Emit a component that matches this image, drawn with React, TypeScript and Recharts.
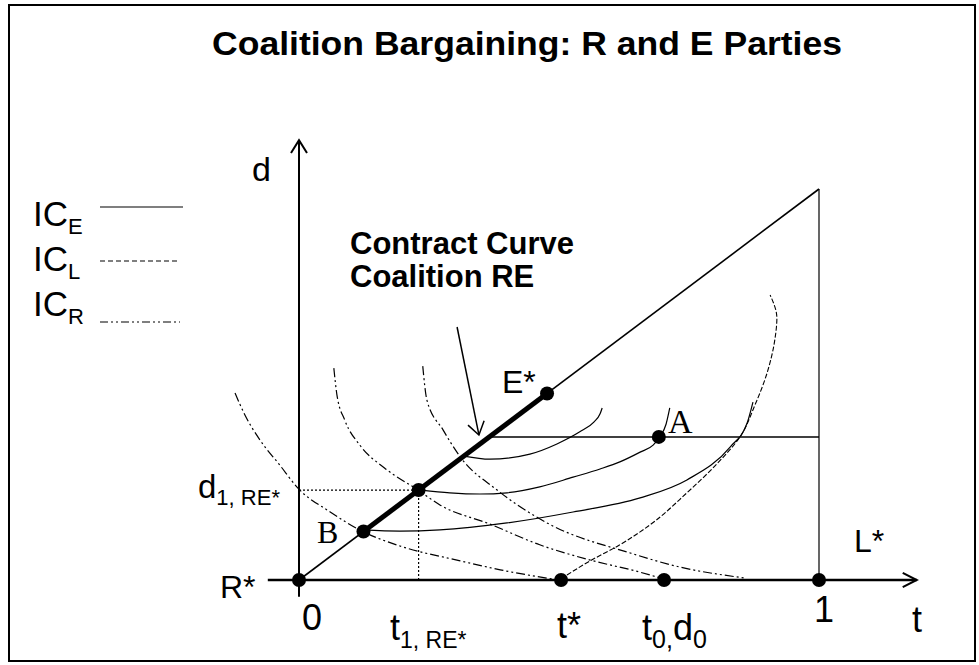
import React from 'react';
import {
  ComposedChart,
  XAxis,
  YAxis,
  Line,
  Scatter,
  ReferenceLine,
  ReferenceArea,
} from 'recharts';

const W = 979;
const H = 665;

// ---------- chart values (t = tax rate, d = second policy dimension) ----------
const budgetLine: [number, number][] = [[0, 0], [1, 1]];
const contractCurve: [number, number][] = [[0.124, 0.124], [0.477, 0.477]];
const aLevelLine: [number, number][] = [[0.366, 0.366], [1, 0.366]];
const tOneLine: [number, number][] = [[1, 0], [1, 1]];
const d1Guide: [number, number][] = [[0, 0.23], [0.23, 0.23]];
const t1Guide: [number, number][] = [[0.23, 0.23], [0.23, 0]];

// indifference curves of party E (solid)
const icE1: [number, number][] = [
  [0.317, 0.317], [0.367, 0.309], [0.444, 0.322], [0.496, 0.348],
  [0.54, 0.379], [0.567, 0.404], [0.579, 0.425], [0.583, 0.44],
];
const icE2: [number, number][] = [
  [0.235, 0.23], [0.29, 0.223], [0.348, 0.22], [0.4, 0.223], [0.463, 0.238],
  [0.527, 0.263], [0.579, 0.284], [0.617, 0.302], [0.656, 0.327],
  [0.681, 0.345], [0.694, 0.366], [0.706, 0.399], [0.713, 0.44],
];
const icE3: [number, number][] = [
  [0.123, 0.128], [0.194, 0.125], [0.271, 0.128], [0.4, 0.146], [0.527, 0.174],
  [0.656, 0.21], [0.746, 0.256], [0.829, 0.34], [0.862, 0.402], [0.873, 0.455],
];
// indifference curves of party R (dash-dot-dot)
const icR1: [number, number][] = [
  [-0.123, 0.478], [-0.104, 0.422], [-0.075, 0.358], [-0.037, 0.294],
  [-0.002, 0.235], [0.06, 0.174], [0.121, 0.125], [0.194, 0.087],
  [0.31, 0.049], [0.387, 0.026], [0.5, 0.0],
];
const icR2: [number, number][] = [
  [0.067, 0.542], [0.073, 0.473], [0.088, 0.409], [0.117, 0.345], [0.165, 0.286],
  [0.229, 0.23], [0.271, 0.192], [0.367, 0.143], [0.463, 0.09], [0.56, 0.051],
  [0.656, 0.02], [0.7, 0.003],
];
const icR3: [number, number][] = [
  [0.238, 0.547], [0.246, 0.46], [0.277, 0.384], [0.31, 0.315], [0.381, 0.23],
  [0.477, 0.146], [0.637, 0.069], [0.733, 0.033], [0.858, 0.005],
];
// indifference curve of party L (dashed)
const icL1: [number, number][] = [
  [0.504, 0.003], [0.56, 0.049], [0.617, 0.09], [0.675, 0.141], [0.746, 0.223],
  [0.8, 0.292], [0.848, 0.366], [0.877, 0.448], [0.9, 0.529], [0.915, 0.614],
  [0.919, 0.67], [0.906, 0.729],
];

// marked points
const markedT = [0, 0.124, 0.23, 0.477, 0.692, 0.504, 0.702, 1];
const markedD = [0, 0.124, 0.23, 0.477, 0.366, 0, 0, 0];

// axis extents
const tAxisRange: [number, number] = [-0.06, 1.188];
const dAxisRange: [number, number] = [-0.043, 1.125];

// contract-curve pointer
const pointer: [number, number][] = [[0.304, 0.647], [0.346, 0.371]];

// ---------- helpers ----------
const pts = (a: [number, number][]) => a.map(([t, d]) => ({ t, d }));
const points = markedT.map((t, i) => ({ t, d: markedD[i] }));

const xArrow = pts([
  [tAxisRange[1] - 0.027, 0.018],
  [tAxisRange[1], 0],
  [tAxisRange[1] - 0.027, -0.018],
]);
const yArrow = pts([
  [-0.0154, dAxisRange[1] - 0.033],
  [0, dAxisRange[1]],
  [0.0154, dAxisRange[1] - 0.033],
]);
const pointerHead = pts([
  [pointer[1][0] - 0.021, pointer[1][1] + 0.025],
  [pointer[1][0], pointer[1][1]],
  [pointer[1][0] + 0.01, pointer[1][1] + 0.036],
]);

const SANS = "'Liberation Sans', Arial, Helvetica, sans-serif";
const SERIF = "'Liberation Serif', 'Times New Roman', serif";

type Lbl = {
  key: string;
  px: number;
  py: number;
  main: string;
  sub?: string;
  sub2?: string;
  main2?: string;
  size: number;
  subSize?: number;
  bold?: boolean;
  serif?: boolean;
  len?: number;
};

// annotation layer (page-pixel axes)
const labels: Lbl[] = [
  { key: 'title', px: 212, py: 55, main: 'Coalition Bargaining: R and E Parties', size: 34, bold: true, len: 630 },
  { key: 'dlab', px: 252, py: 181, main: 'd', size: 34 },
  { key: 'cc1', px: 350, py: 254, main: 'Contract Curve', size: 31, bold: true },
  { key: 'cc2', px: 350, py: 287, main: 'Coalition RE', size: 31, bold: true },
  { key: 'ice', px: 33, py: 226, main: 'IC', sub: 'E', size: 35, subSize: 22 },
  { key: 'icl', px: 33, py: 271, main: 'IC', sub: 'L', size: 35, subSize: 22 },
  { key: 'icr', px: 33, py: 316, main: 'IC', sub: 'R', size: 35, subSize: 22 },
  { key: 'estar', px: 502, py: 393, main: 'E*', size: 32 },
  { key: 'a', px: 668, py: 433, main: 'A', size: 34, serif: true },
  { key: 'b', px: 317, py: 543, main: 'B', size: 32, serif: true },
  { key: 'd1', px: 198, py: 498, main: 'd', sub: '1, RE*', size: 33, subSize: 22 },
  { key: 'rstar', px: 220, py: 598, main: 'R*', size: 32 },
  { key: 'zero', px: 302, py: 630, main: '0', size: 36 },
  { key: 't1', px: 390, py: 640, main: 't', sub: '1, RE*', size: 36, subSize: 23 },
  { key: 'tstar', px: 557, py: 638, main: 't*', size: 36 },
  { key: 't0', px: 642, py: 640, main: 't', sub: '0,', main2: 'd', sub2: '0', size: 36, subSize: 25 },
  { key: 'one', px: 814, py: 622, main: '1', size: 36 },
  { key: 'tlab', px: 912, py: 632, main: 't', size: 36 },
  { key: 'lstar', px: 854, py: 552, main: 'L*', size: 32 },
];

const legendSamples = [
  { key: 'ls', x1: 100, x2: 183, y: 207, dash: undefined as string | undefined },
  { key: 'll', x1: 100, x2: 180, y: 261, dash: '5 3' },
  { key: 'lr', x1: 100, x2: 180, y: 322, dash: '8 3 2 3 2 3' },
];

const renderLabel = (p: any) => {
  const l: Lbl = p.payload;
  const x = p.cx;
  const y = p.cy;
  if (!l || x == null || y == null) return <g />;
  const subSize = l.subSize ?? Math.round(l.size * 0.62);
  const shift = Math.round(l.size * 0.22);
  return (
    <text
      x={x}
      y={y}
      fontFamily={l.serif ? SERIF : SANS}
      fontSize={l.size}
      fontWeight={l.bold ? 'bold' : 'normal'}
      fill="#000"
      textLength={l.len}
      lengthAdjust={l.len ? 'spacingAndGlyphs' : undefined}
    >
      <tspan>{l.main}</tspan>
      {l.sub && (
        <tspan fontSize={subSize} dy={shift}>
          {l.sub}
        </tspan>
      )}
      {l.main2 && <tspan dy={-shift}>{l.main2}</tspan>}
      {l.sub2 && (
        <tspan fontSize={subSize} dy={shift}>
          {l.sub2}
        </tspan>
      )}
    </text>
  );
};

const curveProps = {
  dataKey: 'd',
  stroke: '#000',
  dot: false as const,
  activeDot: false as const,
  isAnimationActive: false,
  legendType: 'none' as const,
};

export default function App() {
  return (
    <div style={{ position: 'absolute', left: 0, top: 0, width: W, height: H, background: '#fff' }}>
      <ComposedChart width={W} height={H} margin={{ top: 0, right: 0, bottom: 0, left: 0 }}>
        <XAxis dataKey="t" type="number" domain={[-299 / 520, 680 / 520]} allowDataOverflow hide />
        <YAxis dataKey="d" type="number" domain={[-85 / 391, 580 / 391]} allowDataOverflow hide />
        <XAxis xAxisId="px" dataKey="px" type="number" domain={[0, W]} allowDataOverflow hide />
        <YAxis yAxisId="px" dataKey="py" type="number" domain={[0, H]} reversed allowDataOverflow hide />

        {/* frame */}
        <ReferenceArea xAxisId="px" yAxisId="px" x1={9} x2={975} y1={5} y2={661}
          fill="none" fillOpacity={0} stroke="#000" strokeWidth={2} ifOverflow="visible" />

        {/* legend samples */}
        {legendSamples.map((s) => (
          <ReferenceLine key={s.key} xAxisId="px" yAxisId="px"
            segment={[{ x: s.x1, y: s.y }, { x: s.x2, y: s.y }]}
            stroke="#000" strokeWidth={1.2} strokeDasharray={s.dash} ifOverflow="visible" />
        ))}

        {/* guide lines */}
        <Line {...curveProps} data={pts(d1Guide)} type="linear" strokeWidth={1.2} strokeDasharray="2 2" />
        <Line {...curveProps} data={pts(t1Guide)} type="linear" strokeWidth={1.2} strokeDasharray="2 2" />

        {/* indifference curves */}
        <Line {...curveProps} data={pts(icR1)} type="monotoneX" strokeWidth={1.2} strokeDasharray="9 3 2 3 2 3" />
        <Line {...curveProps} data={pts(icR2)} type="monotoneX" strokeWidth={1.2} strokeDasharray="9 3 2 3 2 3" />
        <Line {...curveProps} data={pts(icR3)} type="monotoneX" strokeWidth={1.2} strokeDasharray="9 3 2 3 2 3" />
        <Line {...curveProps} data={pts(icL1)} type="monotoneY" strokeWidth={1.1} strokeDasharray="5 2" />
        <Line {...curveProps} data={pts(icE1)} type="monotoneX" strokeWidth={1.2} />
        <Line {...curveProps} data={pts(icE2)} type="monotoneX" strokeWidth={1.2} />
        <Line {...curveProps} data={pts(icE3)} type="monotoneX" strokeWidth={1.2} />

        {/* structure lines */}
        <Line {...curveProps} data={pts(tOneLine)} type="linear" strokeWidth={1.2} />
        <Line {...curveProps} data={pts(aLevelLine)} type="linear" strokeWidth={1.5} />
        <Line {...curveProps} data={pts(budgetLine)} type="linear" strokeWidth={1.6} />
        <Line {...curveProps} data={pts(contractCurve)} type="linear" strokeWidth={5} />

        {/* axes */}
        <Line {...curveProps} data={[{ t: tAxisRange[0], d: 0 }, { t: tAxisRange[1], d: 0 }]} type="linear" strokeWidth={2.5} />
        <Line {...curveProps} data={xArrow} type="linear" strokeWidth={2} />
        <Line {...curveProps} data={[{ t: 0, d: dAxisRange[0] }, { t: 0, d: dAxisRange[1] }]} type="linear" strokeWidth={2} />
        <Line {...curveProps} data={yArrow} type="linear" strokeWidth={2} />

        {/* pointer arrow */}
        <Line {...curveProps} data={pts(pointer)} type="linear" strokeWidth={1.5} />
        <Line {...curveProps} data={pointerHead} type="linear" strokeWidth={1.5} />

        {/* marked points */}
        <Scatter
          data={points}
          dataKey="d"
          isAnimationActive={false}
          legendType="none"
          shape={(p: any) => <circle cx={p.cx} cy={p.cy} r={7} fill="#000" />}
        />

        {/* text annotations */}
        <Scatter
          xAxisId="px"
          yAxisId="px"
          data={labels}
          dataKey="py"
          isAnimationActive={false}
          legendType="none"
          shape={renderLabel}
        />
      </ComposedChart>
    </div>
  );
}
